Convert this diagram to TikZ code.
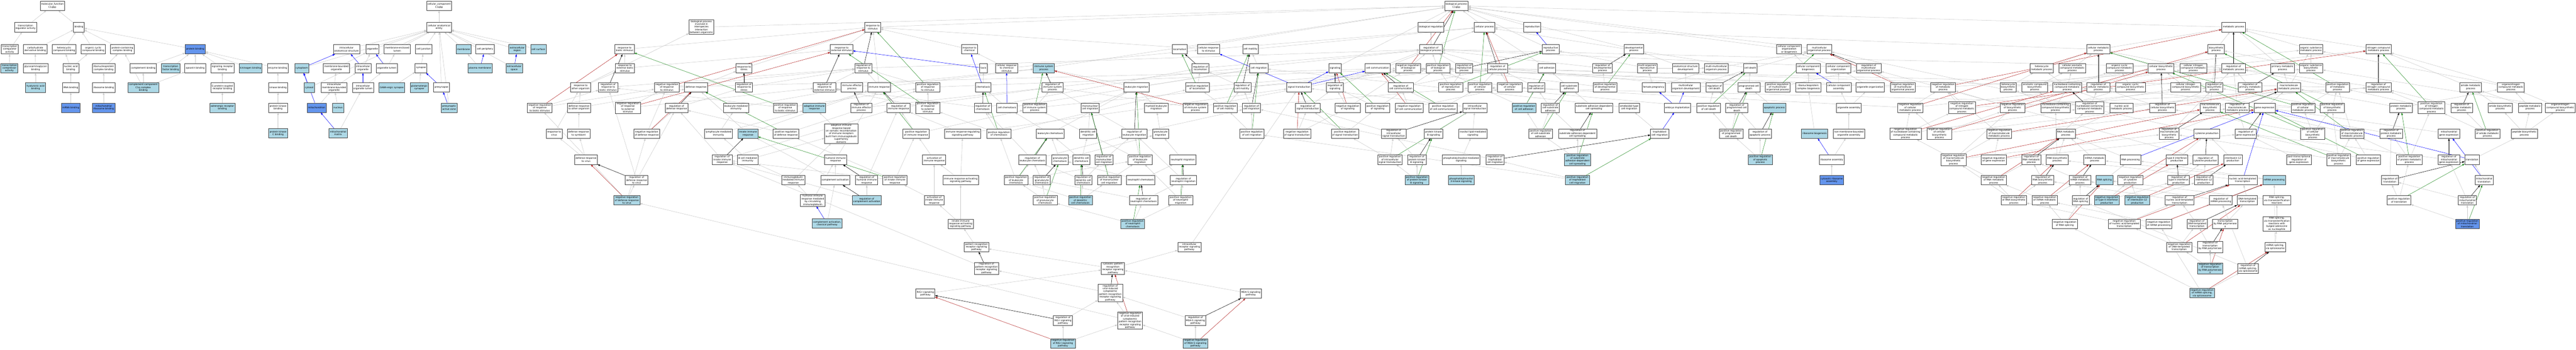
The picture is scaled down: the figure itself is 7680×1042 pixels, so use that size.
\documentclass[tikz,border=0pt]{standalone}
\usepackage{fontspec}
\setmainfont{DejaVu Sans}
\usetikzlibrary{arrows.meta}
\pgfdeclarelayer{background}
\pgfsetlayers{background,main}
\definecolor{lblue}{RGB}{173,216,230}
\definecolor{cfblue}{RGB}{100,149,237}
\definecolor{isagray}{RGB}{200,200,200}
\definecolor{posgreen}{RGB}{34,139,34}
\definecolor{negred}{RGB}{178,34,34}
\begin{document}
\begin{tikzpicture}[x=1pt,y=-1pt,
    term/.style={draw=black!75,line width=1pt,fill=white,align=center,minimum height=28pt,inner xsep=3pt,inner ysep=1.5pt,font=\fontsize{7}{8.3}\selectfont},
    lb/.style={term,fill=lblue},
    cf/.style={term,fill=cfblue},
    every edge/.style={draw=isagray,line width=0.8pt,-{Triangle[length=7pt,width=5pt]}},
    partof/.style={draw=blue},
    regs/.style={draw=black},
    posreg/.style={draw=posgreen},
    negreg/.style={draw=negred}]
    \useasboundingbox (0,0) rectangle (7680,1042);

    \node[term] (mf) at (156,17) {molecular\_function\\C1qbp};
    \node[term] (trra) at (76,81) {transcription\\regulator activity};
    \node[term] (bind) at (235,81) {binding};
    \node[term] (trco) at (29,147) {transcription\\coregulator\\activity};
    \node[term] (carb) at (105,147) {carbohydrate\\derivative binding};
    \node[term] (hetc) at (191,147) {heterocyclic\\compound binding};
    \node[term] (orgc) at (278,147) {organic cyclic\\compound binding};
    \node[term] (pcc) at (365,147) {protein-containing\\complex binding};
    \node[cf] (pbind) at (582,147) {protein binding};
    \node[lb] (trcr) at (28,203) {transcription\\corepressor\\activity};
    \node[term] (gag) at (106,203) {glycosaminoglycan\\binding};
    \node[term] (nab) at (211,203) {nucleic acid\\binding};
    \node[term] (rnpcb) at (309,203) {ribonucleoprotein\\complex binding};
    \node[term] (compb) at (427,203) {complement binding};
    \node[lb] (tfb) at (509,203) {transcription\\factor binding};
    \node[term] (ops) at (582,203) {opsonin binding};
    \node[term] (srb) at (663,203) {signaling receptor\\binding};
    \node[lb] (kng) at (747,203) {kininogen binding};
    \node[term] (enz) at (828,203) {enzyme binding};
    \node[lb] (hab) at (106,261) {hyaluronic acid\\binding};
    \node[term] (rnab) at (211,261) {RNA binding};
    \node[term] (ribb) at (309,261) {ribosome binding};
    \node[lb] (c1q) at (427,261) {complement component\\C1q complex\\binding};
    \node[term] (gpcr) at (663,261) {G protein-coupled\\receptor binding};
    \node[term] (kinb) at (829,261) {kinase binding};
    \node[cf] (mrnab) at (211,321) {mRNA binding};
    \node[cf] (mribb) at (309,321) {mitochondrial\\ribosome binding};
    \node[lb] (adrb) at (663,321) {adrenergic receptor\\binding};
    \node[term] (pkb) at (829,321) {protein kinase\\binding};
    \node[lb] (pkcb) at (829,397) {protein kinase\\C binding};

    \node[term] (cc) at (1309,17) {cellular\_component\\C1qbp};
    \node[term] (cae) at (1309,81) {cellular anatomical\\entity};
    \node[term] (ias) at (1033,147) {intracellular\\anatomical structure};
    \node[term] (orgl) at (1110,147) {organelle};
    \node[term] (mel) at (1184,147) {membrane-enclosed\\lumen};
    \node[term] (cj) at (1263,147) {cell junction};
    \node[lb] (memb) at (1382,147) {membrane};
    \node[term] (cper) at (1446,147) {cell periphery};
    \node[lb] (ecr) at (1542,147) {extracellular\\region};
    \node[lb] (csurf) at (1605,147) {cell surface};
    \node[lb] (cyto) at (900,203) {cytoplasm};
    \node[term] (mbo) at (1003,203) {membrane-bounded\\organelle};
    \node[term] (io) at (1082,203) {intracellular\\organelle};
    \node[term] (ol) at (1153,203) {organelle lumen};
    \node[term] (syn) at (1255,203) {synapse};
    \node[lb] (pm) at (1431,203) {plasma membrane};
    \node[lb] (es) at (1533,203) {extracellular\\space};
    \node[lb] (cytosol) at (922,261) {cytosol};
    \node[term] (imbo) at (996,261) {intracellular\\membrane-bounded\\organelle};
    \node[term] (iol) at (1082,261) {intracellular\\organelle lumen};
    \node[lb] (gaba) at (1168,261) {GABA-ergic synapse};
    \node[lb] (glut) at (1250,261) {glutamatergic\\synapse};
    \node[term] (presyn) at (1316,260) {presynapse};
    \node[cf] (mito) at (944,321) {mitochondrion};
    \node[lb] (nucl) at (1008,321) {nucleus};
    \node[lb] (paz) at (1339,321) {presynaptic\\active zone};
    \node[lb] (mmat) at (1008,397) {mitochondrial\\matrix};

    \node[term] (bp) at (4342,17) {biological\_process\\C1qbp};
    \node[term] (bpii) at (2091,81) {biological process\\involved in\\interspecies\\interaction\\between organisms};
    \node[term] (rstim) at (2602,81) {response to\\stimulus};
    \node[term] (breg) at (4266,81) {biological regulation};
    \node[term] (cproc) at (4426,81) {cellular process};
    \node[term] (repro) at (4568,81) {reproduction};
    \node[term] (mp) at (6659,81) {metabolic process};

    \node[term] (rbs) at (1862,147) {response to\\biotic stimulus};
    \node[term] (rext) at (2509,147) {response to\\external stimulus};
    \node[term] (rchem) at (2890,147) {response to\\chemical};
    \node[term] (loco) at (3517,147) {locomotion};
    \node[term] (crs) at (3603,147) {cellular response\\to stimulus};
    \node[term] (cmot) at (3728,147) {cell motility};
    \node[term] (regbp) at (4266,147) {regulation of\\biological process};
    \node[term] (rp) at (4623,147) {reproductive\\process};
    \node[term] (dp) at (4871,147) {developmental\\process};
    \node[term] (ccob) at (5334,147) {cellular component\\organization\\or biogenesis};
    \node[term] (mop) at (5424,147) {multicellular\\organismal process};
    \node[term] (cmp) at (6256,147) {cellular metabolic\\process};
    \node[term] (bios) at (6607,147) {biosynthetic\\process};
    \node[term] (osmp) at (6890,147) {organic substance\\metabolic process};
    \node[term] (ncmp) at (7091,147) {nitrogen compound\\metabolic process};

    \node[term] (rebs) at (1863,203) {response to\\external biotic\\stimulus};
    \node[term] (rs) at (2218,203) {response to\\stress};
    \node[term] (rrs) at (2574,203) {regulation of\\response to\\stimulus};
    \node[term] (taxis) at (2932,203) {taxis};
    \node[term] (crcs) at (3001,203) {cellular response\\to chemical\\stimulus};
    \node[lb] (isp) at (3112,203) {immune system\\process};
    \node[term] (rloco) at (3579,203) {regulation of\\locomotion};
    \node[term] (cmig) at (3753,203) {cell migration};
    \node[term] (sig) at (3980,203) {signaling};
    \node[term] (ccomm) at (4107,203) {cell communication};
    \node[term] (nrbp) at (4198,203) {negative regulation\\of biological\\process};
    \node[term] (prbp) at (4287,203) {positive regulation\\of biological\\process};
    \node[term] (rrp) at (4365,203) {regulation of\\reproductive\\process};
    \node[term] (rcp) at (4465,203) {regulation of\\cellular process};
    \node[term] (cadh) at (4612,203) {cell adhesion};
    \node[term] (rdp) at (4778,203) {regulation of\\developmental\\process};
    \node[term] (morp) at (4911,203) {multi-organism\\reproductive\\process};
    \node[term] (asd) at (5025,203) {anatomical structure\\development};
    \node[term] (mmop) at (5117,203) {multi-multicellular\\organism process};
    \node[term] (cdeath) at (5218,203) {cell death};
    \node[term] (ccb) at (5391,203) {cellular component\\biogenesis};
    \node[term] (cco) at (5481,203) {cellular component\\organization};
    \node[term] (rmop) at (5571,203) {regulation of\\multicellular\\organismal process};
    \node[term] (hmp) at (6087,203) {heterocycle\\metabolic process};
    \node[term] (camp) at (6178,203) {cellular aromatic\\compound metabolic\\process};
    \node[term] (ocmp) at (6319,203) {organic cyclic\\compound metabolic\\process};
    \node[term] (cbios) at (6443,203) {cellular biosynthetic\\process};
    \node[term] (cncmp) at (6539,203) {cellular nitrogen\\compound metabolic\\process};
    \node[term] (rmp) at (6659,203) {regulation of\\metabolic process};
    \node[term] (pmp) at (6805,203) {primary metabolic\\process};
    \node[term] (osbios) at (6890,203) {organic substance\\biosynthetic\\process};

    \node[term] (roo) at (1731,260) {response to\\other organism};
    \node[term] (rrbs) at (1813,260) {regulation of\\response to\\biotic stimulus};
    \node[term] (nrs) at (1988,260) {negative regulation\\of response\\to stimulus};
    \node[term] (dr) at (2075,260) {defense response};
    \node[term] (rrst) at (2218,260) {regulation of\\response to\\stress};
    \node[term] (rrext) at (2458,260) {regulation of\\response to\\external stimulus};
    \node[term] (iep) at (2540,260) {immune effector\\process};
    \node[term] (ir) at (2621,260) {immune response};
    \node[term] (prs) at (2766,260) {positive regulation\\of response\\to stimulus};
    \node[term] (chemo) at (2931,260) {chemotaxis};
    \node[term] (risp) at (3138,260) {regulation of\\immune system\\process};
    \node[term] (lm) at (3388,260) {leukocyte migration};
    \node[term] (prloco) at (3570,260) {positive regulation\\of locomotion};
    \node[term] (rcmot) at (3704,260) {regulation of\\cell motility};
    \node[term] (st) at (3873,260) {signal transduction};
    \node[term] (rsig) at (3980,260) {regulation of\\signaling};
    \node[term] (rcc) at (4176,260) {regulation of\\cell communication};
    \node[term] (prrp) at (4325,260) {positive regulation\\of reproductive\\process};
    \node[term] (prcp) at (4412,260) {positive regulation\\of cellular\\process};
    \node[term] (nrcp) at (4501,260) {negative regulation\\of cellular\\process};
    \node[term] (rcadh) at (4580,260) {regulation of\\cell adhesion};
    \node[term] (csa) at (4678,260) {cell-substrate\\adhesion};
    \node[term] (prdp) at (4785,260) {positive regulation\\of developmental\\process};
    \node[term] (fp) at (4930,260) {female pregnancy};
    \node[term] (mod) at (5026,260) {multicellular\\organism development};
    \node[term] (rcd) at (5111,260) {regulation of\\cell death};
    \node[term] (pcd) at (5214,260) {programmed cell\\death};
    \node[term] (prmop) at (5300,260) {positive regulation\\of multicellular\\organismal process};
    \node[term] (rnpcbio) at (5391,260) {ribonucleoprotein\\complex biogenesis};
    \node[term] (cca) at (5482,260) {cellular component\\assembly};
    \node[term] (oo) at (5576,260) {organelle organization};
    \node[term] (nrmop) at (5673,260) {negative regulation\\of multicellular\\organismal process};
    \node[term] (nrmp) at (5793,260) {negative regulation\\of metabolic\\process};
    \node[term] (hbios) at (5987,260) {heterocycle\\biosynthetic\\process};
    \node[term] (acbios) at (6066,260) {aromatic compound\\biosynthetic\\process};
    \node[term] (nbcmp) at (6163,260) {nucleobase-containing\\compound metabolic\\process};
    \node[term] (rcmp) at (6256,260) {regulation of\\cellular metabolic\\process};
    \node[term] (ocbios) at (6352,260) {organic cyclic\\compound biosynthetic\\process};
    \node[term] (cncbios) at (6516,260) {cellular nitrogen\\compound biosynthetic\\process};
    \node[term] (rbios) at (6602,260) {regulation of\\biosynthetic\\process};
    \node[term] (rpmp) at (6708,260) {regulation of\\primary metabolic\\process};
    \node[term] (mmp) at (6824,260) {macromolecule\\metabolic process};
    \node[term] (prmp) at (6969,260) {positive regulation\\of metabolic\\process};
    \node[term] (rncmp) at (7091,260) {regulation of\\nitrogen compound\\metabolic process};
    \node[term] (amp) at (7366,260) {amide metabolic\\process};
    \node[term] (onmp) at (7486,260) {organonitrogen\\compound metabolic\\process};

    \node[term] (nrrbs) at (1609,321) {negative regulation\\of response\\to biotic stimulus};
    \node[term] (dro) at (1726,321) {defense response\\to other organism};
    \node[term] (nrrext) at (1872,321) {negative regulation\\of response\\to external\\stimulus};
    \node[term] (rdr) at (2017,321) {regulation of\\defense response};
    \node[term] (lmi) at (2194,321) {leukocyte mediated\\immunity};
    \node[term] (prrbs) at (2341,321) {positive regulation\\of response\\to biotic stimulus};
    \node[lb] (air) at (2428,321) {adaptive immune\\response};
    \node[term] (riep) at (2568,321) {regulation of\\immune effector\\process};
    \node[term] (rir) at (2679,321) {regulation of\\immune response};
    \node[term] (prrext) at (2766,321) {positive regulation\\of response\\to external\\stimulus};
    \node[term] (rchemo) at (2930,321) {regulation of\\chemotaxis};
    \node[term] (cchemo) at (3002,321) {cell chemotaxis};
    \node[term] (prisp) at (3085,321) {positive regulation\\of immune system\\process};
    \node[term] (mcm) at (3250,321) {mononuclear\\cell migration};
    \node[term] (mlm) at (3447,321) {myeloid leukocyte\\migration};
    \node[term] (nrisp) at (3564,321) {negative regulation\\of immune system\\process};
    \node[term] (prcmot) at (3653,321) {positive regulation\\of cell motility};
    \node[term] (rcmig) at (3731,321) {regulation of\\cell migration};
    \node[term] (rst) at (3899,321) {regulation of\\signal transduction};
    \node[term] (nrsig) at (4018,321) {negative regulation\\of signaling};
    \node[term] (prsig) at (4107,321) {positive regulation\\of signaling};
    \node[term] (nrcc) at (4201,321) {negative regulation\\of cell communication};
    \node[term] (prcc) at (4302,321) {positive regulation\\of cell communication};
    \node[term] (ist) at (4397,321) {intracellular\\signal transduction};
    \node[lb] (prcadh) at (4544,321) {positive regulation\\of cell adhesion};
    \node[term] (rcsa) at (4622,321) {regulation of\\cell-substrate\\adhesion};
    \node[term] (sadcs) at (4752,321) {substrate adhesion-dependent\\cell spreading};
    \node[term] (atcm) at (4857,321) {ameboidal-type\\cell migration};
    \node[term] (ei) at (5001,321) {embryo implantation};
    \node[term] (prcd) at (5094,321) {positive regulation\\of cell death};
    \node[term] (rpcd) at (5178,321) {regulation of\\programmed cell\\death};
    \node[lb] (apop) at (5290,321) {apoptotic process};
    \node[term] (oa) at (5512,321) {organelle assembly};
    \node[term] (ncrcmp) at (5695,321) {negative regulation\\of cellular\\metabolic process};
    \node[term] (nrncmp) at (5849,321) {negative regulation\\of nitrogen\\compound metabolic\\process};
    \node[term] (nrbios) at (6000,321) {negative regulation\\of biosynthetic\\process};
    \node[term] (nbcbios) at (6128,321) {nucleobase-containing\\compound biosynthetic\\process};
    \node[term] (rnbcmp) at (6230,321) {regulation of\\nucleobase-containing\\compound metabolic\\process};
    \node[term] (namp) at (6325,321) {nucleic acid\\metabolic process};
    \node[term] (rcbios) at (6447,321) {regulation of\\cellular biosynthetic\\process};
    \node[term] (mbios) at (6589,321) {macromolecule\\biosynthetic\\process};
    \node[term] (rmmp) at (6670,321) {regulation of\\macromolecule\\metabolic process};
    \node[term] (gexp) at (6752,321) {gene expression};
    \node[term] (prcmp) at (6866,321) {positive regulation\\of cellular\\metabolic process};
    \node[term] (prbios) at (6953,321) {positive regulation\\of biosynthetic\\process};
    \node[term] (protmp) at (7158,321) {protein metabolic\\process};
    \node[term] (prncmp) at (7249,321) {positive regulation\\of nitrogen\\compound metabolic\\process};
    \node[term] (ramp) at (7339,321) {regulation of\\amide metabolic\\process};
    \node[term] (abios) at (7454,321) {amide biosynthetic\\process};
    \node[term] (pepmp) at (7543,321) {peptide metabolic\\process};
    \node[term] (onbios) at (7633,321) {organonitrogen\\compound biosynthetic\\process};

    \node[term] (rv) at (1652,398) {response to\\virus};
    \node[term] (drs) at (1725,398) {defense response\\to symbiont};
    \node[term] (nrdr) at (1928,398) {negative regulation\\of defense response};
    \node[term] (lymi) at (2142,398) {lymphocyte mediated\\immunity};
    \node[lb] (iir) at (2230,398) {innate immune\\response};
    \node[term] (prdr) at (2343,398) {positive regulation\\of defense response};
    \node[term] (airsr) at (2508,398) {adaptive immune\\response based\\on somatic recombination\\of immune receptors\\built from immunoglobulin\\superfamily\\domains};
    \node[term] (prir) at (2731,398) {positive regulation\\of immune response};
    \node[term] (irrsp) at (2870,398) {immune response-regulating\\signaling pathway};
    \node[term] (prchemo) at (2978,398) {positive regulation\\of chemotaxis};
    \node[term] (lchemo) at (3131,398) {leukocyte chemotaxis};
    \node[term] (dcm) at (3244,398) {dendritic cell\\migration};
    \node[term] (rlm) at (3382,398) {regulation of\\leukocyte migration};
    \node[term] (gmig) at (3460,398) {granulocyte\\migration};
    \node[term] (prcmig) at (3732,398) {positive regulation\\of cell migration};
    \node[term] (nrst) at (3867,398) {negative regulation\\of signal transduction};
    \node[term] (prst) at (4010,398) {positive regulation\\of signal transduction};
    \node[term] (rist) at (4155,398) {regulation of\\intracellular\\signal transduction};
    \node[term] (pkbs) at (4274,398) {protein kinase\\B signaling};
    \node[term] (ilms) at (4391,398) {inositol lipid-mediated\\signaling};
    \node[term] (prcsa) at (4593,398) {positive regulation\\of cell-substrate\\adhesion};
    \node[term] (rsadcs) at (4703,398) {regulation of\\substrate adhesion-dependent\\cell spreading};
    \node[term] (tcm) at (4948,398) {trophoblast\\cell migration};
    \node[term] (prpcd) at (5161,398) {positive regulation\\of programmed\\cell death};
    \node[term] (rap) at (5247,398) {regulation of\\apoptotic process};
    \node[lb] (ribbio) at (5410,398) {ribosome biogenesis};
    \node[term] (nmboa) at (5512,398) {non-membrane-bounded\\organelle assembly};
    \node[term] (nrnbcmp) at (5681,398) {negative regulation\\of nucleobase-containing\\compound metabolic\\process};
    \node[term] (nrcbios) at (5782,398) {negative regulation\\of cellular\\biosynthetic\\process};
    \node[term] (nrmmp) at (5960,398) {negative regulation\\of macromolecule\\metabolic process};
    \node[term] (rnamp) at (6159,398) {RNA metabolic\\process};
    \node[term] (rmbios) at (6467,398) {regulation of\\macromolecule\\biosynthetic\\process};
    \node[term] (cyp) at (6579,398) {cytokine production};
    \node[term] (rge) at (6695,398) {regulation of\\gene expression};
    \node[term] (prcbios) at (6895,398) {positive regulation\\of cellular\\biosynthetic\\process};
    \node[term] (prmmp) at (7012,398) {positive regulation\\of macromolecule\\metabolic process};
    \node[term] (rprotmp) at (7129,398) {regulation of\\protein metabolic\\process};
    \node[term] (mge) at (7301,398) {mitochondrial\\gene expression};
    \node[term] (pramp) at (7416,398) {positive regulation\\of amide metabolic\\process};
    \node[term] (pepbios) at (7526,398) {peptide biosynthetic\\process};

    \node[term] (drv) at (1747,476) {defense response\\to virus};
    \node[term] (riir) at (2153,476) {regulation of\\innate immune\\response};
    \node[term] (bcmi) at (2229,476) {B cell mediated\\immunity};
    \node[term] (hir) at (2491,476) {humoral immune\\response};
    \node[term] (aoir) at (2785,476) {activation of\\immune response};
    \node[term] (rlc) at (3078,476) {regulation of\\leukocyte chemotaxis};
    \node[term] (gchemo) at (3160,476) {granulocyte\\chemotaxis};
    \node[term] (dcc) at (3224,476) {dendritic cell\\chemotaxis};
    \node[term] (rmcm) at (3291,476) {regulation of\\mononuclear\\cell migration};
    \node[term] (prlm) at (3399,476) {positive regulation\\of leukocyte\\migration};
    \node[term] (nmig) at (3526,476) {neutrophil migration};
    \node[term] (prist) at (4144,476) {positive regulation\\of intracellular\\signal transduction};
    \node[term] (rpkb) at (4224,476) {regulation of\\protein kinase\\B signaling};
    \node[term] (pims) at (4356,476) {phosphatidylinositol-mediated\\signaling};
    \node[term] (rtcm) at (4457,476) {regulation of\\trophoblast\\cell migration};
    \node[lb] (prsadcs) at (4703,476) {positive regulation\\of substrate\\adhesion-dependent\\cell spreading};
    \node[lb] (prap) at (5248,476) {positive regulation\\of apoptotic\\process};
    \node[term] (ribass) at (5461,476) {ribosome assembly};
    \node[term] (nrmbios) at (5824,476) {negative regulation\\of macromolecule\\biosynthetic\\process};
    \node[term] (nrge) at (5944,476) {negative regulation\\of gene expression};
    \node[term] (rrnamp) at (6056,476) {regulation of\\RNA metabolic\\process};
    \node[term] (rnabios) at (6133,476) {RNA biosynthetic\\process};
    \node[term] (mrnamp) at (6245,476) {mRNA metabolic\\process};
    \node[term] (rnap) at (6352,476) {RNA processing};
    \node[term] (t2) at (6490,476) {type II interferon\\production};
    \node[term] (rcyp) at (6575,476) {regulation of\\cytokine production};
    \node[term] (il12) at (6657,476) {interleukin-12\\production};
    \node[term] (ptrge) at (6854,476) {post-transcriptional\\regulation of\\gene expression};
    \node[term] (prmbios) at (6972,476) {positive regulation\\of macromolecule\\biosynthetic\\process};
    \node[term] (prge) at (7061,476) {positive regulation\\of gene expression};
    \node[term] (prpmp) at (7183,476) {positive regulation\\of protein metabolic\\process};
    \node[term] (rmge) at (7301,476) {regulation of\\mitochondrial\\gene expression};
    \node[term] (transl) at (7370,476) {translation};

    \node[term] (rdrv) at (1898,537) {regulation of\\defense response\\to virus};
    \node[term] (imir) at (2365,537) {immunoglobulin\\mediated immune\\response};
    \node[term] (ca) at (2490,537) {complement activation};
    \node[term] (rhir) at (2584,537) {regulation of\\humoral immune\\response};
    \node[term] (priir) at (2668,537) {positive regulation\\of innate immune\\response};
    \node[term] (irasp) at (2864,537) {immune response-activating\\signaling pathway};
    \node[term] (prlc) at (3029,537) {positive regulation\\of leukocyte\\chemotaxis};
    \node[term] (rgc) at (3106,537) {regulation of\\granulocyte\\chemotaxis};
    \node[term] (rdcc) at (3230,537) {regulation of\\dendritic cell\\chemotaxis};
    \node[term] (prmcm) at (3307,537) {positive regulation\\of mononuclear\\cell migration};
    \node[term] (nchemo) at (3401,537) {neutrophil chemotaxis};
    \node[term] (rnmig) at (3528,537) {regulation of\\neutrophil migration};
    \node[lb] (prpkb) at (4224,537) {positive regulation\\of protein kinase\\B signaling};
    \node[lb] (pi3k) at (4356,537) {phosphatidylinositol\\3-kinase signaling};
    \node[lb] (prtcm) at (4703,537) {positive regulation\\of trophoblast\\cell migration};
    \node[cf] (cribass) at (5461,537) {cytosolic ribosome\\assembly};
    \node[term] (nrrnamp) at (5944,537) {negative regulation\\of RNA metabolic\\process};
    \node[term] (rrnabios) at (6090,537) {regulation of\\RNA biosynthetic\\process};
    \node[term] (rmrnamp) at (6201,537) {regulation of\\mRNA metabolic\\process};
    \node[lb] (rnasp) at (6274,537) {RNA splicing};
    \node[term] (ncyp) at (6351,537) {negative regulation\\of cytokine\\production};
    \node[term] (rt2) at (6495,537) {regulation of\\type II interferon\\production};
    \node[term] (ril12) at (6570,537) {regulation of\\interleukin-12\\production};
    \node[term] (natt) at (6686,537) {nucleic acid-templated\\transcription};
    \node[lb] (mrnap) at (6780,537) {mRNA processing};
    \node[term] (rtransl) at (7125,537) {regulation of\\translation};
    \node[term] (mtransl) at (7406,537) {mitochondrial\\translation};

    \node[lb] (nrdrv) at (1869,597) {negative regulation\\of defense response\\to virus};
    \node[term] (hircirc) at (2423,597) {humoral immune\\response mediated\\by circulating\\immunoglobulin};
    \node[lb] (rca) at (2584,597) {regulation of\\complement activation};
    \node[term] (aiir) at (2785,597) {activation of\\innate immune\\response};
    \node[term] (prgc) at (3116,597) {positive regulation\\of granulocyte\\chemotaxis};
    \node[lb] (prdcc) at (3221,597) {positive regulation\\of dendritic\\cell chemotaxis};
    \node[term] (rnc) at (3409,597) {regulation of\\neutrophil chemotaxis};
    \node[term] (prnmig) at (3520,597) {positive regulation\\of neutrophil\\migration};
    \node[term] (nrrnabios) at (6004,597) {negative regulation\\of RNA biosynthetic\\process};
    \node[term] (nrmrnamp) at (6096,597) {negative regulation\\of mRNA metabolic\\process};
    \node[term] (rrnasp) at (6203,597) {regulation of\\RNA splicing};
    \node[lb] (nt2) at (6281,597) {negative regulation\\of type II interferon\\production};
    \node[lb] (nil12) at (6372,597) {negative regulation\\of interleukin-12\\production};
    \node[term] (rnatt) at (6498,597) {regulation of\\nucleic acid-templated\\transcription};
    \node[term] (rmrnap) at (6621,597) {regulation of\\mRNA processing};
    \node[term] (dtt) at (6700,597) {DNA-templated\\transcription};
    \node[term] (rste) at (6788,597) {RNA splicing,\\via transesterification\\reactions};
    \node[term] (prtransl) at (7152,597) {positive regulation\\of translation};
    \node[term] (rmtransl) at (7356,597) {regulation of\\mitochondrial\\translation};

    \node[lb] (cacp) at (2466,666) {complement activation,\\classical pathway};
    \node[term] (iirasp) at (2864,667) {innate immune\\response-activating\\signaling pathway};
    \node[lb] (prnc) at (3377,667) {positive regulation\\of neutrophil\\chemotaxis};
    \node[term] (nrrnasp) at (6156,667) {negative regulation\\of RNA splicing};
    \node[term] (nrnatt) at (6333,667) {negative regulation\\of nucleic acid-templated\\transcription};
    \node[term] (nrmrnap) at (6436,667) {negative regulation\\of mRNA processing};
    \node[term] (rdtt) at (6550,667) {regulation of\\DNA-templated\\transcription};
    \node[term] (trpol2) at (6634,667) {transcription\\by RNA polymerase\\II};
    \node[term] (rstebulge) at (6788,667) {RNA splicing,\\via transesterification\\reactions with\\bulged adenosine\\as nucleophile};
    \node[cf] (prmtransl) at (7356,667) {positive regulation\\of mitochondrial\\translation};

    \node[term] (prrsp) at (2911,736) {pattern recognition\\receptor signaling\\pathway};
    \node[term] (icrsp) at (3546,736) {intracellular\\receptor signaling\\pathway};
    \node[term] (nrdtt) at (6497,736) {negative regulation\\of DNA-templated\\transcription};
    \node[term] (rtrpol2) at (6589,736) {regulation of\\transcription\\by RNA polymerase\\II};
    \node[term] (msvs) at (6783,736) {mRNA splicing,\\via spliceosome};
    \node[term] (rprrsp) at (2941,800) {regulation of\\pattern recognition\\receptor signaling\\pathway};
    \node[term] (cprrsp) at (3318,800) {cytosolic pattern\\recognition\\receptor signaling\\pathway};
    \node[lb] (nrtrpol2) at (6589,800) {negative regulation\\of transcription\\by RNA polymerase\\II};
    \node[term] (rmsvs) at (6702,800) {regulation of\\mRNA splicing,\\via spliceosome};
    \node[term] (rig) at (2759,875) {RIG-I signaling\\pathway};
    \node[term] (rvicp) at (3310,873) {regulation of\\viral-induced\\cytoplasmic\\pattern recognition\\receptor signaling\\pathway};
    \node[term] (mda5) at (3729,875) {MDA-5 signaling\\pathway};
    \node[lb] (nrmsvs) at (6565,873) {negative regulation\\of mRNA splicing,\\via spliceosome};
    \node[term] (rrig) at (3169,955) {regulation of\\RIG-I signaling\\pathway};
    \node[term] (nrvicp) at (3369,955) {negative regulation\\of viral-induced\\cytoplasmic\\pattern recognition\\receptor signaling\\pathway};
    \node[term] (rmda5) at (3564,955) {regulation of\\MDA-5 signaling\\pathway};
    \node[lb] (nrrig) at (3169,1023) {negative regulation\\of RIG-I signaling\\pathway};
    \node[lb] (nrmda5) at (3564,1023) {negative regulation\\of MDA-5 signaling\\pathway};

    \begin{pgfonlayer}{background}
    \fill[white] (0,0) rectangle (7680,1042);
    \path (trra) edge (mf) (bind) edge (mf) (trco) edge (trra) (trcr) edge (trco)
        (carb) edge (bind) (hetc) edge (bind) (orgc) edge (bind) (pcc) edge (bind) (pbind) edge (bind)
        (gag) edge (carb) (hab) edge (gag) (nab) edge (hetc) edge (orgc) (rnab) edge (nab) (mrnab) edge (rnab)
        (rnpcb) edge (pcc) (ribb) edge (rnpcb) (mribb) edge (ribb)
        (c1q) edge (pcc) edge (compb) edge (ops)
        (compb) edge (pbind) (tfb) edge (pbind) (ops) edge (pbind) (srb) edge (pbind) (kng) edge (pbind) (enz) edge (pbind)
        (gpcr) edge (srb) (adrb) edge (gpcr) (kinb) edge (enz) (pkb) edge (kinb) (pkcb) edge (pkb);
    \path (cae) edge (cc)
        (ias) edge (cae) (orgl) edge (cae) (mel) edge (cae) (cj) edge (cae) (memb) edge (cae) (cper) edge (cae) (ecr) edge (cae) (csurf) edge (cae)
        (cyto) edge[partof] (ias) edge (cae) (cytosol) edge[partof] (cyto) edge (cae)
        (mbo) edge (orgl) (io) edge[partof] (ias) edge (orgl) (ol) edge[partof] (orgl) edge (mel)
        (imbo) edge (mbo) edge (io) (iol) edge[partof] (io) edge (ol)
        (mito) edge[partof] (cyto) edge (imbo) (nucl) edge (imbo) (mmat) edge[partof] (mito) edge (iol)
        (syn) edge (cj) (gaba) edge (syn) (glut) edge (syn) (presyn) edge[partof] (syn) edge (cae) (paz) edge[partof] (presyn) edge (cae)
        (pm) edge (memb) edge[partof] (cper) (es) edge[partof] (ecr) edge (cae);
    \path (bpii) edge (bp) (rstim) edge (bp) (breg) edge (bp) (cproc) edge (bp) (repro) edge (bp) (mp) edge (bp)
        (loco) edge (bp) (isp) edge (bp) (sig) edge (bp) (dp) edge (bp) (ccob) edge (bp) (mop) edge (bp) (rp) edge[partof] (repro) edge (bp)
        (regbp) edge (breg) edge[regs] (bp) (nrbp) edge (regbp) edge[negreg] (bp) (prbp) edge (regbp) edge[posreg] (bp);
    \path (rbs) edge (rstim) (rext) edge (rstim) (rchem) edge (rstim) (rs) edge (rstim)
        (rebs) edge (rbs) edge (rext) (roo) edge (rebs) edge (bpii)
        (rrs) edge[regs] (rstim) edge (regbp) (rrbs) edge[regs] (rbs) edge (rrs)
        (nrs) edge (rrs) edge[negreg] (rstim) edge (nrbp) (prs) edge (rrs) edge[posreg] (rstim) edge (prbp)
        (dr) edge (rs) (rrst) edge[regs] (rs) edge (rrs) (rrext) edge[regs] (rext) edge (rrs)
        (iep) edge (isp) (ir) edge (rstim) edge (isp)
        (nrrbs) edge (rrbs) edge[negreg] (rbs) edge (nrs) (dro) edge (roo) edge (dr)
        (nrrext) edge (rrext) edge[negreg] (rext) edge (nrs) (rdr) edge[regs] (dr) edge (rrst)
        (lmi) edge (iep) (prrbs) edge (rrbs) edge[posreg] (rbs) edge (prs) (air) edge (ir)
        (riep) edge[regs] (iep) edge (risp) (rir) edge[regs] (ir) edge (risp) edge (rrs)
        (prrext) edge (rrext) edge[posreg] (rext) edge (prs)
        (rv) edge (roo) (drs) edge (dro) (nrdr) edge (rdr) edge[negreg] (dr) edge (nrs)
        (lymi) edge (lmi) edge (air) (iir) edge (ir) edge (dr) (prdr) edge (rdr) edge[posreg] (dr) edge (prs)
        (airsr) edge (air) (prir) edge (rir) edge[posreg] (ir) edge (prisp)
        (drv) edge (rv) edge (drs) (riir) edge[regs] (iir) edge (rdr) edge (rir)
        (bcmi) edge (lymi) edge (airsr) (hir) edge (ir)
        (rdrv) edge[regs] (drv) edge (rdr) edge (rrbs) (imir) edge (bcmi) edge (airsr)
        (ca) edge (hir) edge (iir) (rhir) edge[regs] (hir) edge (rir)
        (priir) edge (riir) edge[posreg] (iir) edge (prdr) edge (prir)
        (nrdrv) edge (rdrv) edge[negreg] (drv) edge (nrrbs) edge (nrdr)
        (hircirc) edge (hir) edge (imir) (rca) edge[regs] (ca) edge (rhir) edge (riir)
        (cacp) edge[partof] (hircirc) edge (ca);
    \path (taxis) edge[partof] (rext) (crcs) edge (rchem) edge (crs)
        (chemo) edge (taxis) edge[partof] (rchem) (risp) edge[regs] (isp) edge (regbp)
        (lm) edge (cmig) edge (isp) (rchemo) edge[regs] (chemo) edge (rrext) edge (rloco)
        (cchemo) edge[partof] (crcs) edge (chemo) edge (cmig)
        (prisp) edge (risp) edge[posreg] (isp) edge (prbp)
        (mcm) edge (lm) (mlm) edge (lm) (irrsp) edge (rir) edge (st)
        (prchemo) edge (rchemo) edge[posreg] (chemo) edge (prrext) edge (prloco)
        (lchemo) edge (cchemo) edge (lm) (dcm) edge (mcm)
        (rlm) edge[regs] (lm) edge (risp) edge (rcmig) (aoir) edge (prir)
        (rlc) edge[regs] (lchemo) edge (rchemo) edge (rlm)
        (gchemo) edge (lchemo) edge (gmig) (dcc) edge (lchemo) edge (dcm)
        (rmcm) edge[regs] (mcm) edge (rlm) (prlm) edge (rlm) edge[posreg] (lm) edge (prisp)
        (irasp) edge (irrsp) edge (aoir)
        (prlc) edge (rlc) edge[posreg] (lchemo) edge (prchemo) edge (prlm)
        (rgc) edge[regs] (gchemo) edge (rlc) (rdcc) edge[regs] (dcc) edge (rlc) edge (rmcm)
        (prmcm) edge (rmcm) edge[posreg] (mcm) edge (prlm)
        (nchemo) edge (gchemo) edge (nmig) (aiir) edge (aoir) edge (priir)
        (prgc) edge (rgc) edge[posreg] (gchemo) edge (prlc)
        (prdcc) edge (rdcc) edge[posreg] (dcc) edge (prlc) edge (prmcm)
        (rnc) edge[regs] (nchemo) edge (rgc) edge (rnmig)
        (iirasp) edge (irasp) edge (aiir)
        (prnc) edge (rnc) edge[posreg] (nchemo) edge (prgc) edge (prnmig)
        (prrsp) edge (iirasp) (rprrsp) edge[regs] (prrsp) edge (riir)
        (cprrsp) edge (prrsp) edge (icrsp) (rig) edge (cprrsp)
        (rvicp) edge[regs] (cprrsp) edge (rprrsp) (rrig) edge[regs] (rig) edge (rvicp)
        (nrvicp) edge (rvicp) edge[negreg] (cprrsp) edge (nrdrv)
        (nrrig) edge (rrig) edge[negreg] (rig) edge (nrvicp)
        (mda5) edge (cprrsp) (rmda5) edge[regs] (mda5) edge (rvicp)
        (nrmda5) edge (rmda5) edge[negreg] (mda5) edge (nrvicp) (icrsp) edge (st);
    \path (crs) edge (rstim) edge (cproc) (cmot) edge (cproc)
        (rloco) edge[regs] (loco) edge (regbp) (cmig) edge (cmot) (ccomm) edge (cproc)
        (prloco) edge (rloco) edge[posreg] (loco) edge (prbp)
        (rcmot) edge[regs] (cmot) edge (rloco) edge (rcp)
        (st) edge[partof] (crs) edge[partof] (sig) edge[partof] (ccomm)
        (rsig) edge[regs] (sig) edge (regbp) (nrisp) edge (risp) edge[negreg] (isp) edge (nrbp)
        (prcmot) edge (rcmot) edge[posreg] (cmot) edge (prloco) edge (prcp)
        (rcmig) edge[regs] (cmig) edge (rcmot) (rst) edge[regs] (st) edge (rsig)
        (nrsig) edge (rsig) edge[negreg] (sig) edge (nrbp) (prsig) edge (rsig) edge[posreg] (sig) edge (prbp)
        (gmig) edge (mlm) (prcmig) edge (rcmig) edge[posreg] (cmig) edge (prcmot)
        (nrst) edge (rst) edge[negreg] (st) edge (nrsig) (prst) edge (rst) edge[posreg] (st) edge (prsig)
        (rist) edge[regs] (ist) edge (rst) (nmig) edge (gmig)
        (prist) edge (rist) edge[posreg] (ist) edge (prst)
        (rnmig) edge[regs] (nmig) edge (rlm) (prnmig) edge (rnmig) edge[posreg] (nmig) edge (prlm);
    \path (rrp) edge[regs] (rp) edge (regbp) (rcp) edge[regs] (cproc) edge (regbp) (cadh) edge (cproc)
        (rdp) edge[regs] (dp) edge (regbp) (rcc) edge[regs] (ccomm) edge (rcp)
        (prrp) edge (rrp) edge[posreg] (rp) edge (prbp) (prcp) edge (rcp) edge[posreg] (cproc) edge (prbp)
        (nrcp) edge (rcp) edge[negreg] (cproc) edge (nrbp) (rcadh) edge[regs] (cadh) edge (rcp) (csa) edge (cadh)
        (prdp) edge (rdp) edge[posreg] (dp) edge (prbp)
        (nrcc) edge (rcc) edge[negreg] (ccomm) edge (nrcp) (prcc) edge (rcc) edge[posreg] (ccomm) edge (prcp)
        (ist) edge (st) (prcadh) edge (rcadh) edge[posreg] (cadh) edge (prcp)
        (rcsa) edge[regs] (csa) edge (rcadh) (sadcs) edge (csa) (atcm) edge (cmig)
        (pkbs) edge (ist) (ilms) edge (ist) (prcsa) edge (rcsa) edge[posreg] (csa) edge (prcadh)
        (rsadcs) edge[regs] (sadcs) edge (rcsa) (rpkb) edge[regs] (pkbs) edge (rist) (pims) edge (ilms)
        (rtcm) edge[regs] (tcm) edge (rcmig) (prsadcs) edge (rsadcs) edge[posreg] (sadcs) edge (prcsa)
        (prpkb) edge (rpkb) edge[posreg] (pkbs) edge (prist) (pi3k) edge (pims)
        (prtcm) edge (rtcm) edge[posreg] (tcm) edge (prcmig);
    \path (morp) edge (rp) edge (mmop) (asd) edge (dp) (mmop) edge (mop) (cdeath) edge (cproc)
        (ccb) edge (ccob) (cco) edge (ccob) (rmop) edge[regs] (mop) edge (regbp)
        (fp) edge (morp) edge (mmop) (mod) edge (asd) edge (mop)
        (rcd) edge[regs] (cdeath) edge (rcp) (pcd) edge (cdeath)
        (prmop) edge (rmop) edge[posreg] (mop) edge (prbp) (rnpcbio) edge (ccb)
        (cca) edge[partof] (ccb) edge (cco) (oo) edge (cco)
        (ei) edge[partof] (fp) edge[partof] (mod) (prcd) edge (rcd) edge[posreg] (cdeath) edge (prcp)
        (rpcd) edge[regs] (pcd) edge (rcd) (apop) edge (pcd) (oa) edge (cca) edge (oo)
        (tcm) edge[partof] (ei) edge (atcm) (prpcd) edge (rpcd) edge[posreg] (pcd) edge (prcd)
        (rap) edge[regs] (apop) edge (rpcd) (ribbio) edge (rnpcbio) (nmboa) edge (oa)
        (prap) edge (rap) edge[posreg] (apop) edge (prpcd)
        (ribass) edge[partof] (ribbio) edge (nmboa) (cribass) edge (ribass);
    \path (cmp) edge (mp) edge (cproc) (bios) edge (mp) (osmp) edge (mp) (ncmp) edge (mp)
        (hmp) edge (cmp) (camp) edge (cmp) (ocmp) edge (osmp) (cbios) edge (bios) edge (cmp)
        (cncmp) edge (cmp) edge (ncmp) (rmp) edge[regs] (mp) edge (regbp) (pmp) edge (mp)
        (osbios) edge (osmp) edge (bios)
        (nrmop) edge (rmop) edge[negreg] (mop) edge (nrbp) (nrmp) edge (rmp) edge[negreg] (mp) edge (nrbp)
        (hbios) edge (hmp) edge (cbios) (acbios) edge (camp) edge (cbios)
        (nbcmp) edge (hmp) edge (camp) edge (cncmp) edge (ocmp)
        (rcmp) edge[regs] (cmp) edge (rmp) edge (rcp) (ocbios) edge (ocmp) edge (osbios)
        (cncbios) edge (cncmp) edge (cbios) (rbios) edge[regs] (bios) edge (rmp)
        (rpmp) edge[regs] (pmp) edge (rmp) (mmp) edge (pmp) edge (osmp)
        (prmp) edge (rmp) edge[posreg] (mp) edge (prbp) (rncmp) edge[regs] (ncmp) edge (rmp)
        (amp) edge (ncmp) (onmp) edge (ncmp) edge (osmp)
        (ncrcmp) edge (rcmp) edge[negreg] (cmp) edge (nrmp) edge (nrcp)
        (nrncmp) edge (rncmp) edge[negreg] (ncmp) edge (nrmp)
        (nrbios) edge (rbios) edge[negreg] (bios) edge (nrmp)
        (nbcbios) edge (nbcmp) edge (hbios) edge (acbios) edge (cncbios) edge (ocbios)
        (rnbcmp) edge[regs] (nbcmp) edge (rcmp) edge (rncmp) (namp) edge (nbcmp) edge (mmp)
        (rcbios) edge[regs] (cbios) edge (rbios) edge (rcmp) (mbios) edge (mmp) edge (bios)
        (rmmp) edge[regs] (mmp) edge (rmp) (gexp) edge (mmp)
        (prcmp) edge (rcmp) edge[posreg] (cmp) edge (prmp) edge (prcp)
        (prbios) edge (rbios) edge[posreg] (bios) edge (prmp) (protmp) edge (mmp) edge (onmp)
        (prncmp) edge (rncmp) edge[posreg] (ncmp) edge (prmp) (ramp) edge[regs] (amp) edge (rncmp)
        (abios) edge (amp) (pepmp) edge (amp) edge (onmp) (onbios) edge (onmp) edge (osbios)
        (nrnbcmp) edge (rnbcmp) edge[negreg] (nbcmp) edge (ncrcmp) edge (nrncmp)
        (nrcbios) edge (rcbios) edge[negreg] (cbios) edge (nrbios) edge (ncrcmp)
        (nrmmp) edge (rmmp) edge[negreg] (mmp) edge (nrmp) (rnamp) edge (namp)
        (rmbios) edge[regs] (mbios) edge (rbios) edge (rmmp) (cyp) edge (mop)
        (rge) edge[regs] (gexp) edge (rmmp)
        (prcbios) edge (rcbios) edge[posreg] (cbios) edge (prbios) edge (prcmp)
        (prmmp) edge (rmmp) edge[posreg] (mmp) edge (prmp) (rprotmp) edge[regs] (protmp) edge (rmmp)
        (mge) edge (gexp) (pramp) edge (ramp) edge[posreg] (amp) edge (prncmp)
        (pepbios) edge (pepmp) edge (abios) edge (onbios);
    \path (nrmbios) edge (rmbios) edge[negreg] (mbios) edge (nrmmp) edge (nrbios)
        (nrge) edge (rge) edge[negreg] (gexp) edge (nrmmp) (rrnamp) edge[regs] (rnamp) edge (rnbcmp)
        (rnabios) edge (rnamp) edge (nbcbios) (mrnamp) edge (rnamp) (rnap) edge (rnamp) edge[partof] (gexp)
        (t2) edge (cyp) (il12) edge (cyp) (rcyp) edge[regs] (cyp) edge (rmop) (ptrge) edge (rge)
        (prmbios) edge (rmbios) edge[posreg] (mbios) edge (prmmp) edge (prbios)
        (prge) edge (rge) edge[posreg] (gexp) edge (prmmp)
        (prpmp) edge (rprotmp) edge[posreg] (protmp) edge (prmmp) edge (prncmp)
        (rmge) edge[regs] (mge) edge (rge) (transl) edge (pepbios) edge[partof] (gexp)
        (nrrnamp) edge (rrnamp) edge[negreg] (rnamp) edge (nrnbcmp)
        (rrnabios) edge[regs] (rnabios) edge (rrnamp) (rmrnamp) edge[regs] (mrnamp) edge (rrnamp)
        (rnasp) edge (rnap) (ncyp) edge (rcyp) edge[negreg] (cyp)
        (rt2) edge[regs] (t2) edge (rcyp) (ril12) edge[regs] (il12) edge (rcyp)
        (natt) edge (rnabios) edge[partof] (gexp) (mrnap) edge (rnap) edge (mrnamp)
        (rtransl) edge[regs] (transl) edge (rprotmp) (mtransl) edge (transl) edge[partof] (mge)
        (nrrnabios) edge (rrnabios) edge[negreg] (rnabios) edge (nrrnamp) edge (nrmbios)
        (nrmrnamp) edge (rmrnamp) edge[negreg] (mrnamp) edge (nrrnamp)
        (rrnasp) edge[regs] (rnasp) edge (rmrnamp)
        (nt2) edge (rt2) edge[negreg] (t2) edge (ncyp) (nil12) edge (ril12) edge[negreg] (il12) edge (ncyp)
        (rnatt) edge[regs] (natt) edge (rrnabios) (rmrnap) edge[regs] (mrnap) edge (rmrnamp)
        (dtt) edge (natt) (rste) edge (rnasp)
        (prtransl) edge (rtransl) edge[posreg] (transl) edge (prpmp)
        (rmtransl) edge[regs] (mtransl) edge (rtransl) edge (rmge)
        (nrrnasp) edge (rrnasp) edge[negreg] (rnasp) edge (nrmrnamp)
        (nrnatt) edge (rnatt) edge[negreg] (natt) edge (nrrnabios)
        (nrmrnap) edge (rmrnap) edge[negreg] (mrnap) edge (nrmrnamp)
        (rdtt) edge[regs] (dtt) edge (rnatt) (trpol2) edge (dtt) (rstebulge) edge (rste)
        (prmtransl) edge (rmtransl) edge[posreg] (mtransl) edge (prtransl)
        (nrdtt) edge (rdtt) edge[negreg] (dtt) edge (nrnatt) (rtrpol2) edge[regs] (trpol2) edge (rdtt)
        (msvs) edge (rstebulge) edge (mrnap) (nrtrpol2) edge (rtrpol2) edge[negreg] (trpol2) edge (nrdtt)
        (rmsvs) edge[regs] (msvs) edge (rrnasp) edge (rmrnap)
        (nrmsvs) edge (rmsvs) edge[negreg] (msvs) edge (nrrnasp) edge (nrmrnap);
    \end{pgfonlayer}
\end{tikzpicture}
\end{document}
